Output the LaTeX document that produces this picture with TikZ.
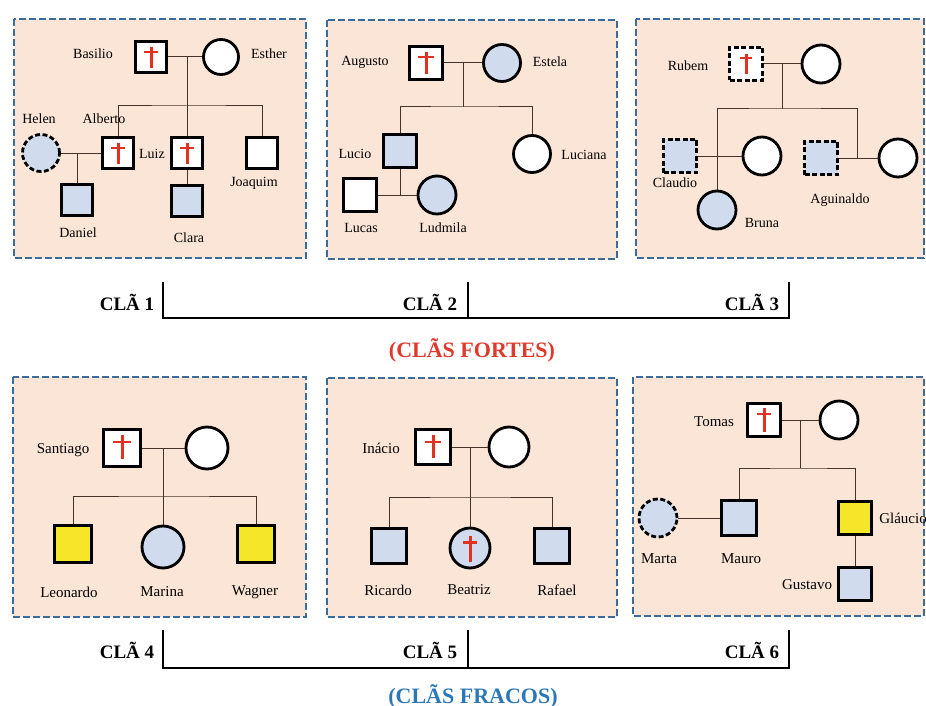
\documentclass[tikz,border=0pt]{standalone}
\usepackage{fontspec}
\setmainfont{Liberation Serif}
\definecolor{panelF}{HTML}{FBE5D6}
\definecolor{panelD}{HTML}{3A6B9B}
\definecolor{blueF}{HTML}{D0DCEE}
\definecolor{yelF}{HTML}{F5E62A}
\definecolor{crossC}{HTML}{E0321F}
\definecolor{lineC}{HTML}{4A3028}
\definecolor{redT}{HTML}{E03A2C}
\definecolor{blueT}{HTML}{2C78B6}
\tikzset{
 panel/.style={fill=panelF, draw=panelD, line width=2.2pt, dash pattern=on 7pt off 3pt},
 sq/.style={rectangle, draw=black, line width=2.8pt, minimum size=31pt, inner sep=0pt, fill=white},
 ci/.style={circle, draw=black, line width=2.8pt, minimum size=36pt, inner sep=0pt, fill=white},
 blu/.style={fill=blueF},
 yel/.style={fill=yelF},
 dsh/.style={dash pattern=on 5pt off 2.5pt},
 crossv/.style={draw=crossC, line width=3pt},
 crossh/.style={draw=crossC, line width=2.5pt},
 ln/.style={draw=lineC, line width=1pt},
 nm/.style={font=\fontsize{14}{16}\selectfont, inner sep=0pt},
 nmb/.style={font=\fontsize{15}{17}\selectfont, inner sep=0pt},
 cla/.style={font=\bfseries\fontsize{19}{21}\selectfont, inner sep=0pt, anchor=base},
 grp/.style={font=\bfseries\fontsize{22}{24}\selectfont, inner sep=0pt, anchor=base},
 brk/.style={draw=black, line width=1.8pt},
}
% #1 node name, #2 top inset, #3 bottom inset, #4 bar inset, #5 bar half width
\newcommand\deadmark[5]{%
  \draw[crossv] ([yshift=-#2pt]#1.north) -- ([yshift=#3pt]#1.south);
  \draw[crossh] ([xshift=-#5pt,yshift=-#4pt]#1.north) -- ([xshift=#5pt,yshift=-#4pt]#1.north);
}
\begin{document}
\begin{tikzpicture}[x=1pt,y=-1pt]
\useasboundingbox[fill=white] (0,0) rectangle (926,706);

% ---------- Panel 1 ----------
\draw[panel] (14,19) rectangle (306,258);
\node[sq,minimum size=31pt] (basilio) at (151,57) {};
\node[ci,minimum size=35pt] (esther) at (221,57) {};
\node[sq] (alberto) at (118,153) {};
\node[ci,blu,dsh,minimum size=37pt] (helen) at (41,153) {};
\node[sq] (luiz) at (187,153) {};
\node[sq] (joaquim) at (262,153) {};
\node[sq,blu] (daniel) at (77,200) {};
\node[sq,blu,minimum size=31pt] (clara) at (187,201) {};
\deadmark{basilio}{7}{6}{12}{7}
\deadmark{alberto}{7}{6}{12}{7}
\deadmark{luiz}{7}{6}{12}{7}
\coordinate (j1) at (187,57);
\coordinate (s1) at (187,106);
\coordinate (d1) at (77,153);
\draw[ln] (basilio) -- (esther);
\draw[ln] (j1) -- (s1);
\draw[ln] (alberto.north) |- (s1) -| (joaquim.north);
\draw[ln] (s1) -- (luiz);
\draw[ln] (helen) -- (alberto);
\draw[ln] (d1) -- (daniel);
\draw[ln] (luiz) -- (clara);
\node[nm] (lbasilio) at (93,54) {Basilio};
\node[nm] (lesther) at (269,54) {Esther};
\node[nm] (lhelen) at (39,119) {Helen};
\node[nm] (lalberto) at (104,119) {Alberto};
\node[nm] (lluiz) at (152,154) {Luiz};
\node[nm] (ljoaquim) at (254,183) {Joaquim};
\node[nm] (ldaniel) at (78,233) {Daniel};
\node[nm] (lclara) at (189,238) {Clara};

% ---------- Panel 2 ----------
\draw[panel] (327,20) rectangle (617,259);
\node[sq,minimum size=33pt] (augusto) at (426,63) {};
\node[ci,blu,minimum size=37pt] (estela) at (502,63) {};
\node[sq,blu,minimum size=33pt] (lucio) at (400,151) {};
\node[ci,minimum size=37pt] (luciana) at (532,154) {};
\node[sq,minimum size=33pt] (lucas) at (360,195) {};
\node[ci,blu,minimum size=38pt] (ludmila) at (437,195) {};
\deadmark{augusto}{7}{7}{12}{8}
\coordinate (j2) at (463,63);
\coordinate (s2) at (463,107);
\coordinate (d2) at (400,195);
\draw[ln] (augusto) -- (estela);
\draw[ln] (j2) -- (s2);
\draw[ln] (lucio.north) |- (s2) -| (luciana.north);
\draw[ln] (lucio) -- (d2);
\draw[ln] (lucas) -- (ludmila);
\node[nm] (laugusto) at (365,62) {Augusto};
\node[nm] (lestela) at (550,62) {Estela};
\node[nm] (llucio) at (355,154) {Lucio};
\node[nm] (lluciana) at (584,155) {Luciana};
\node[nm] (llucas) at (361,228) {Lucas};
\node[nm] (lludmila) at (443,228) {Ludmila};

% ---------- Panel 3 ----------
\draw[panel] (636,19) rectangle (924,258);
\node[sq,dsh,minimum size=33pt] (rubem) at (746,64) {};
\node[ci,minimum size=38pt] (rwife) at (821,64) {};
\node[sq,blu,dsh,minimum size=33pt] (claudio) at (680,156) {};
\node[ci,minimum size=38pt] (cwife) at (762,156) {};
\node[ci,blu,minimum size=38pt] (bruna) at (717,210) {};
\node[sq,blu,dsh,minimum size=33pt] (aguinaldo) at (821,158) {};
\node[ci,minimum size=38pt] (awife) at (898,158) {};
\deadmark{rubem}{8}{8}{12}{6}
\coordinate (j3) at (782,64);
\coordinate (s3) at (782,109);
\coordinate (d3) at (857,158);
\draw[ln] (rubem) -- (rwife);
\draw[ln] (j3) -- (s3);
\draw[ln] (bruna.north) |- (s3) -| (d3);
\draw[ln] (claudio) -- (cwife);
\draw[ln] (aguinaldo) -- (awife);
\node[nm] (lrubem) at (688,66) {Rubem};
\node[nm] (lclaudio) at (675,183) {Claudio};
\node[nm] (lbruna) at (762,223) {Bruna};
\node[nm] (laguinaldo) at (840,200) {Aguinaldo};

% ---------- Panel 4 ----------
\draw[panel] (13,377) rectangle (306,617);
\node[sq,minimum size=37pt] (santiago) at (122,448) {};
\node[ci,minimum size=42pt] (swife) at (207,448) {};
\node[sq,yel,minimum size=37pt] (leonardo) at (73,544) {};
\node[ci,blu,minimum size=42pt] (marina) at (163,547) {};
\node[sq,yel,minimum size=37pt] (wagner) at (256,544) {};
\deadmark{santiago}{7}{9}{14}{9}
\coordinate (j4) at (163,448);
\coordinate (s4) at (163,496);
\draw[ln] (santiago) -- (swife);
\draw[ln] (j4) -- (marina);
\draw[ln] (leonardo.north) |- (s4) -| (wagner.north);
\node[nmb] (lsantiago) at (63,450) {Santiago};
\node[nmb] (lleonardo) at (69,592) {Leonardo};
\node[nmb] (lmarina) at (162,592) {Marina};
\node[nmb] (lwagner) at (255,592) {Wagner};

% ---------- Panel 5 ----------
\draw[panel] (327,378) rectangle (617,617);
\node[sq,minimum size=35pt] (inacio) at (433,447) {};
\node[ci,minimum size=40pt] (iwife) at (509,447) {};
\node[sq,blu,minimum size=35pt] (ricardo) at (389,546) {};
\node[ci,blu,minimum size=40pt] (beatriz) at (470,548) {};
\node[sq,blu,minimum size=35pt] (rafael) at (552,546) {};
\deadmark{inacio}{7}{8}{14}{8}
\deadmark{beatriz}{9}{7}{16}{7}
\coordinate (j5) at (470,447);
\coordinate (s5) at (470,497);
\draw[ln] (inacio) -- (iwife);
\draw[ln] (j5) -- (beatriz);
\draw[ln] (ricardo.north) |- (s5) -| (rafael.north);
\node[nmb] (linacio) at (381,448) {Inácio};
\node[nmb] (lricardo) at (388,590) {Ricardo};
\node[nmb] (lbeatriz) at (469,590) {Beatriz};
\node[nmb] (lrafael) at (557,590) {Rafael};

% ---------- Panel 6 ----------
\draw[panel] (633,377) rectangle (924,616);
\node[sq,minimum size=33pt] (tomas) at (764,420) {};
\node[ci,minimum size=38pt] (twife) at (839,420) {};
\node[sq,blu,minimum size=35pt] (mauro) at (739,518) {};
\node[sq,yel,minimum size=33pt] (glaucio) at (855,518) {};
\node[ci,blu,dsh,minimum size=38pt] (marta) at (658,518) {};
\node[sq,blu,minimum size=33pt] (gustavo) at (855,584) {};
\deadmark{tomas}{6}{6}{12}{7}
\coordinate (j6) at (800,420);
\coordinate (s6) at (800,468);
\draw[ln] (tomas) -- (twife);
\draw[ln] (j6) -- (s6);
\draw[ln] (mauro.north) |- (s6) -| (glaucio.north);
\draw[ln] (marta) -- (mauro);
\draw[ln] (glaucio) -- (gustavo);
\node[nmb] (ltomas) at (714,422) {Tomas};
\node[nmb] (lmarta) at (659,559) {Marta};
\node[nmb] (lmauro) at (741,559) {Mauro};
\node[nmb] (lglaucio) at (903,518) {Gláucio};
\node[nmb] (lgustavo) at (807,585) {Gustavo};

% ---------- Brackets and group labels ----------
\node[cla] (c1) at (127,310) {CLÃ 1};
\node[cla] (c2) at (430,310) {CLÃ 2};
\node[cla] (c3) at (752,310) {CLÃ 3};
\draw[brk] (163,282) |- (789,318) -- (789,282);
\draw[brk] (468,282) -- (468,318);
\node[grp,text=redT] (fortes) at (472,357) {(CLÃS FORTES)};

\node[cla] (c4) at (127,658) {CLÃ 4};
\node[cla] (c5) at (430,658) {CLÃ 5};
\node[cla] (c6) at (752,658) {CLÃ 6};
\draw[brk] (163,630) |- (789,668) -- (789,630);
\draw[brk] (468,630) -- (468,668);
\node[grp,text=blueT] (fracos) at (473,703) {(CLÃS FRACOS)};
\end{tikzpicture}
\end{document}
